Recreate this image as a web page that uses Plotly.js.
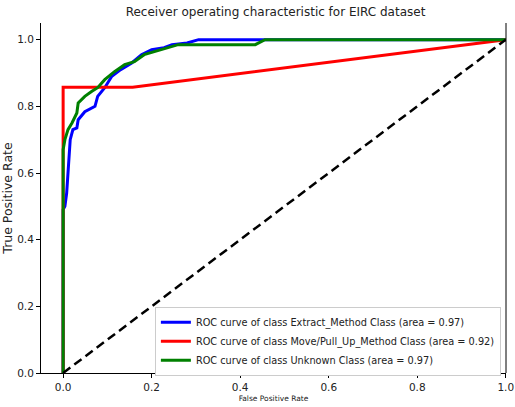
<!DOCTYPE html>
<html>
<head>
<meta charset="utf-8">
<script src="https://cdn.plot.ly/plotly-3.0.1.min.js"></script>
<style>
  html, body { margin: 0; padding: 0; background: #fff; }
  #chart { width: 515px; height: 407px; }
</style>
</head>
<body>
<div id="chart"></div>
<script>
// ROC curve points per class (false positive rate, true positive rate)
const extractFpr = [0, 0, 0.004, 0.008, 0.012, 0.016, 0.022, 0.031, 0.034, 0.049, 0.072, 0.078, 0.094, 0.11, 0.13, 0.155, 0.177, 0.2, 0.228, 0.246, 0.28, 0.306, 1];
const extractTpr = [0, 0.49, 0.50, 0.54, 0.62, 0.70, 0.73, 0.735, 0.76, 0.784, 0.80, 0.83, 0.856, 0.89, 0.91, 0.93, 0.955, 0.97, 0.976, 0.985, 0.99, 1.0, 1.0];

const moveFpr = [0, 0, 0.157, 1];
const moveTpr = [0, 0.857, 0.857, 1];

const unknownFpr = [0, 0, 0.004, 0.011, 0.02, 0.031, 0.034, 0.049, 0.065, 0.078, 0.094, 0.116, 0.139, 0.161, 0.183, 0.206, 0.235, 0.26, 0.434, 0.456, 1];
const unknownTpr = [0, 0.67, 0.70, 0.73, 0.75, 0.78, 0.81, 0.83, 0.845, 0.856, 0.88, 0.904, 0.925, 0.934, 0.955, 0.964, 0.976, 0.985, 0.985, 1.0, 1.0];

const classNames = ["Extract_Method Class", "Move/Pull_Up_Method Class", "Unknown Class"];
const classAuc = [0.97, 0.92, 0.97];

const chanceX = [0, 1];
const chanceY = [0, 1];

const xTicks = [0, 0.2, 0.4, 0.6, 0.8, 1.0];
const yTicks = [0, 0.2, 0.4, 0.6, 0.8, 1.0];

const font = "DejaVu Sans, sans-serif";
const colors = ["#0000ff", "#ff0000", "#008000"];
const curves = [[extractFpr, extractTpr], [moveFpr, moveTpr], [unknownFpr, unknownTpr]];

const traces = curves.map((c, i) => ({
  x: c[0], y: c[1],
  type: "scatter", mode: "lines",
  line: { color: colors[i], width: 3 },
  name: "ROC curve of class " + classNames[i] + " (area = " + classAuc[i].toFixed(2) + ")"
}));

// chance diagonal
traces.push({
  x: chanceX, y: chanceY,
  type: "scatter", mode: "lines",
  line: { color: "#000", width: 2.5, dash: "9px,5px" },
  showlegend: false
});

const layout = {
  width: 515, height: 407,
  margin: { l: 41, r: 9, t: 23, b: 34 },
  paper_bgcolor: "#fff", plot_bgcolor: "#fff",
  font: { family: font, color: "#222" },
  title: {
    text: "Receiver operating characteristic for EIRC dataset",
    font: { family: font, size: 12, color: "#222" },
    x: 0.535, xanchor: "center", y: 0.97, yanchor: "middle"
  },
  xaxis: {
    range: [-0.05, 1.0005], tickvals: xTicks, tickformat: ".1f",
    ticks: "outside", ticklen: 4, tickcolor: "#000",
    ticklabeloverflow: "allow",
    showgrid: false, zeroline: false,
    showline: true, linecolor: "#000", linewidth: 1,
    tickfont: { family: font, size: 10.5, color: "#222" },
    title: { text: "False Positive Rate", font: { family: font, size: 7.5, color: "#222" }, standoff: 4 }
  },
  yaxis: {
    range: [0, 1.05], tickvals: yTicks, tickformat: ".1f",
    ticks: "outside", ticklen: 4, tickcolor: "#000",
    showgrid: false, zeroline: false,
    showline: true, linecolor: "#000", linewidth: 1,
    tickfont: { family: font, size: 10.5, color: "#222" },
    title: { text: "True Positive Rate", font: { family: font, size: 12.5, color: "#222" }, standoff: 1 }
  },
  shapes: [{
    type: "line", xref: "paper", yref: "paper",
    x0: 1, x1: 1, y0: 0, y1: 1,
    line: { color: "#000", width: 1 }
  }],
  legend: {
    x: 0.989, xanchor: "right", y: -0.008, yanchor: "bottom",
    bgcolor: "#fff", bordercolor: "#ccc", borderwidth: 1,
    font: { family: font, size: 9.75, color: "#222" },
    tracegroupgap: 0
  },
  showlegend: true
};

Plotly.newPlot("chart", traces, layout, { displayModeBar: false, staticPlot: true });
</script>
</body>
</html>
